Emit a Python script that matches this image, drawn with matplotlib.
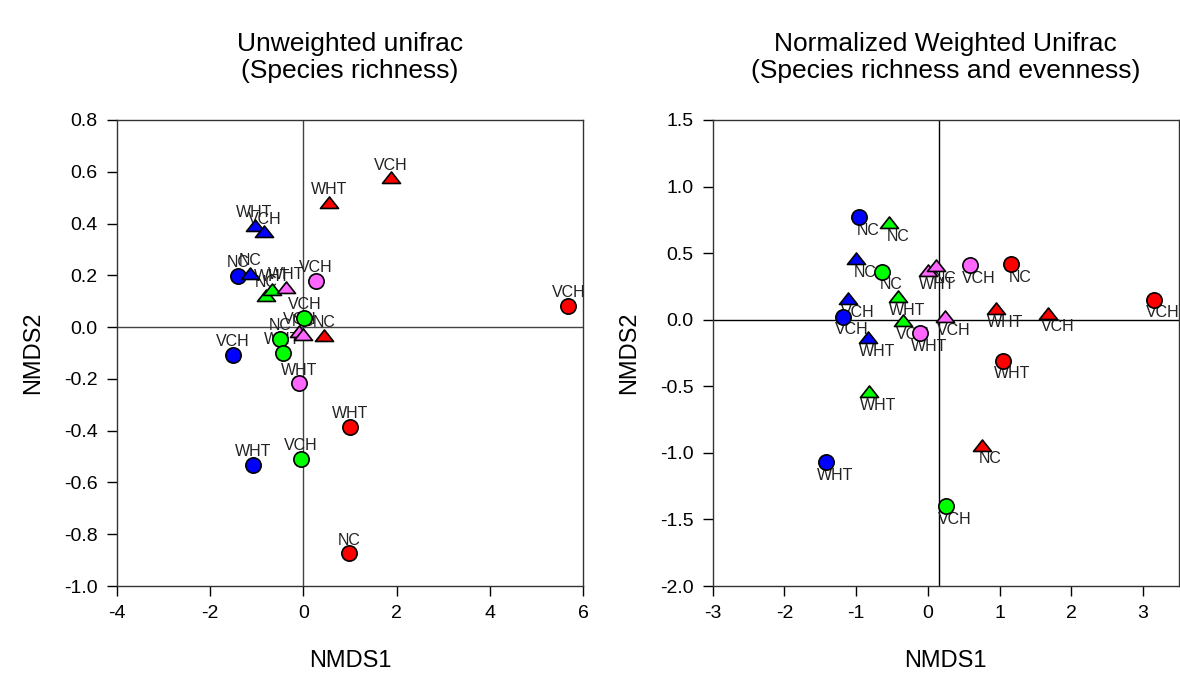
import matplotlib
matplotlib.use('Agg')
import matplotlib.pyplot as plt
from matplotlib.path import Path

plt.rcParams['font.family'] = ['Liberation Sans', 'DejaVu Sans']
plt.rcParams['axes.unicode_minus'] = False

# ----------------- Data: NMDS ordination coordinates -----------------

# Unweighted unifrac (species richness)
uw_x = [1.87, 0.54, 5.68, 0.45, 0.99, 0.97,
        -1.09, -1.52, -1.40, -1.14, -1.05, -0.84,
        0.02, -0.50, -0.45, -0.05, -0.80, -0.67,
        0.27, -0.09, -0.37, -0.09, 0.00]
uw_y = [0.575, 0.48, 0.082, -0.035, -0.385, -0.874,
        -0.533, -0.108, 0.197, 0.205, 0.39, 0.366,
        0.035, -0.046, -0.10, -0.51, 0.12, 0.143,
        0.178, -0.217, 0.152, -0.02, -0.03]
uw_lab = ['VCH', 'WHT', 'VCH', 'NC', 'WHT', 'NC',
          'WHT', 'VCH', 'NC', 'NC', 'WHT', 'VCH',
          'VCH', 'NC', 'WHT', 'VCH', 'NC', 'WHT',
          'VCH', 'WHT', 'WHT', 'VCH', 'NC']
uw_col = ['red', 'red', 'red', 'red', 'red', 'red',
          'blue', 'blue', 'blue', 'blue', 'blue', 'blue',
          'green', 'green', 'green', 'green', 'green', 'green',
          'pink', 'pink', 'pink', 'pink', 'pink']
uw_shape = ['tri', 'tri', 'circ', 'tri', 'circ', 'circ',
            'circ', 'circ', 'circ', 'tri', 'tri', 'tri',
            'circ', 'circ', 'circ', 'circ', 'tri', 'tri',
            'circ', 'circ', 'tri', 'tri', 'tri']

# Normalized weighted unifrac (species richness and evenness)
w_x = [1.16, 1.05, 3.15, 0.95, 1.68, 0.75,
       -0.955, -1.19, -1.416, -1.00, -1.11, -0.83,
       -0.64, 0.25, -0.54, -0.41, -0.34, -0.82,
       0.59, -0.11, 0.00, 0.12, 0.24]
w_y = [0.418, -0.307, 0.15, 0.08, 0.045, -0.945,
       0.772, 0.022, -1.07, 0.455, 0.155, -0.14,
       0.36, -1.40, 0.725, 0.167, -0.013, -0.545,
       0.412, -0.10, 0.367, 0.405, 0.017]
w_lab = ['NC', 'WHT', 'VCH', 'WHT', 'VCH', 'NC',
         'NC', 'VCH', 'WHT', 'NC', 'VCH', 'WHT',
         'NC', 'VCH', 'NC', 'WHT', 'VCH', 'WHT',
         'VCH', 'WHT', 'WHT', 'NC', 'VCH']
w_col = uw_col
w_shape = ['circ', 'circ', 'circ', 'tri', 'tri', 'tri',
           'circ', 'circ', 'circ', 'tri', 'tri', 'tri',
           'circ', 'circ', 'tri', 'tri', 'tri', 'tri',
           'circ', 'circ', 'tri', 'tri', 'tri']

COLORS = {'red': '#ff0000', 'blue': '#0000ff', 'green': '#00ff00', 'pink': '#ff66ff'}

# flattened triangle, wider than it is tall
TRI = Path([(-1, -0.55), (1, -0.55), (0, 0.72), (-1, -0.55)],
           [Path.MOVETO, Path.LINETO, Path.LINETO, Path.CLOSEPOLY])


def draw_panel(ax, xs, ys, labs, cols, shapes, label_offset):
    for x, y, lab, c, s in zip(xs, ys, labs, cols, shapes):
        if s == 'circ':
            ax.plot(x, y, marker='o', ms=11, mfc=COLORS[c], mec='black',
                    mew=1.2, ls='none', zorder=3)
        else:
            ax.plot(x, y, marker=TRI, ms=13, mfc=COLORS[c], mec='black',
                    mew=1.2, ls='none', zorder=3)
        ax.annotate(lab, (x, y), xytext=label_offset, textcoords='offset points',
                    ha='center', va='center', fontsize=11.5, color='#222222',
                    zorder=2)
    ax.tick_params(axis='both', direction='out', length=7, width=1,
                   labelsize=14, top=False, right=False, pad=7)
    for sp in ax.spines.values():
        sp.set_linewidth(1)
        sp.set_color('#333333')


fig = plt.figure(figsize=(11.8, 6.81), dpi=100)
ax1 = fig.add_axes([0.0992, 0.1395, 0.395, 0.6843])
ax2 = fig.add_axes([0.604, 0.1395, 0.395, 0.6843])

# left panel
ax1.axhline(0, color='#444444', lw=1, zorder=1)
ax1.axvline(0, color='#444444', lw=1, zorder=1)
draw_panel(ax1, uw_x, uw_y, uw_lab, uw_col, uw_shape, (0, 9.5))
ax1.set_xlim(-4, 6)
ax1.set_ylim(-1.0, 0.8)
ax1.set_xticks([-4, -2, 0, 2, 4, 6])
ax1.set_yticks([-1.0, -0.8, -0.6, -0.4, -0.2, 0.0, 0.2, 0.4, 0.6, 0.8])
ax1.set_yticklabels([f'{v:.1f}' for v in ax1.get_yticks()])
ax1.set_xlabel('NMDS1', fontsize=17, labelpad=20)
ax1.set_ylabel('NMDS2', fontsize=17, labelpad=14)
ax1.set_title('Unweighted unifrac\n(Species richness)', fontsize=19, pad=30,
              linespacing=1.2)

# right panel
ax2.axhline(0, color='black', lw=1, zorder=1)
ax2.axvline(0.156, color='black', lw=1, zorder=1)
draw_panel(ax2, w_x, w_y, w_lab, w_col, w_shape, (6.5, -9.5))
ax2.set_xlim(-3, 3.5)
ax2.set_ylim(-2.0, 1.5)
ax2.set_xticks([-3, -2, -1, 0, 1, 2, 3])
ax2.set_yticks([-2.0, -1.5, -1.0, -0.5, 0.0, 0.5, 1.0, 1.5])
ax2.set_yticklabels([f'{v:.1f}' for v in ax2.get_yticks()])
ax2.set_xlabel('NMDS1', fontsize=17, labelpad=20)
ax2.set_ylabel('NMDS2', fontsize=17, labelpad=14)
ax2.set_title('Normalized Weighted Unifrac\n(Species richness and evenness)',
              fontsize=19, pad=30, linespacing=1.2)

fig.savefig('out.png', dpi=100)
